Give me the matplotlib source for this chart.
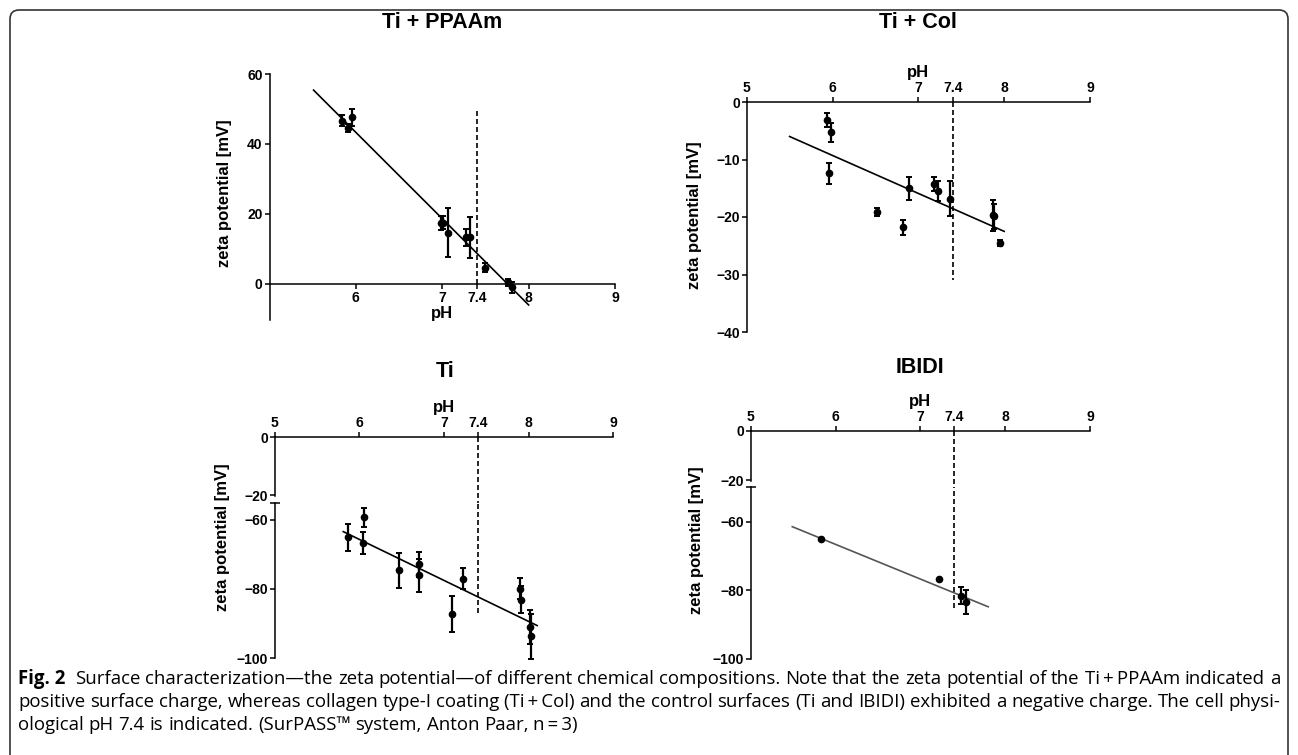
import matplotlib.pyplot as plt
from matplotlib.patches import FancyBboxPatch
from matplotlib.transforms import IdentityTransform

W, H = 1298, 755

plt.rcParams['font.family'] = ['Liberation Sans', 'DejaVu Sans']
plt.rcParams['font.weight'] = 'bold'
plt.rcParams['axes.labelweight'] = 'bold'

# Ti + PPAAm
ppaam_ph = [5.84, 5.91, 5.96, 6.98, 7.01, 7.07, 7.27, 7.32, 7.50, 7.76, 7.81]
ppaam_zeta = [46.7, 44.5, 47.6, 17.5, 17.5, 14.7, 13.3, 13.3, 4.7, 0.5, -1.0]
ppaam_err = [1.5, 1.2, 2.5, 2.0, 1.8, 7.0, 2.5, 5.8, 1.2, 1.0, 1.5]
ppaam_fit_ph = [5.51, 8.0]
ppaam_fit_zeta = [55.4, -6.0]

# Ti + Col
col_ph = [5.93, 5.98, 5.96, 6.52, 6.82, 6.89, 7.18, 7.23, 7.37, 7.87, 7.88, 7.95]
col_zeta = [-3.1, -5.3, -12.4, -19.2, -21.8, -15.0, -14.2, -15.5, -16.8, -19.7, -19.9, -24.5]
col_err = [1.2, 1.6, 1.8, 0.7, 1.3, 2.0, 1.2, 1.7, 3.0, 2.7, 2.2, 0.5]
col_fit_ph = [5.50, 8.0]
col_fit_zeta = [-6.0, -22.5]

# Ti
ti_ph = [5.87, 6.04, 6.06, 6.47, 6.70, 6.70, 7.09, 7.22, 7.90, 7.91, 8.02, 8.03]
ti_zeta = [-65.0, -66.6, -59.3, -74.6, -72.9, -76.1, -87.3, -77.0, -79.9, -83.1, -91.0, -93.7]
ti_err = [3.9, 3.2, 2.8, 5.0, 3.5, 4.8, 5.3, 3.0, 3.0, 4.0, 5.0, 6.5]
ti_fit_ph = [5.81, 8.10]
ti_fit_zeta = [-63.4, -90.6]

# IBIDI
ibidi_ph = [5.83, 7.22, 7.48, 7.54]
ibidi_zeta = [-65.2, -76.8, -81.7, -83.6]
ibidi_err = [0, 0, 2.5, 3.5]
ibidi_fit_ph = [5.49, 7.80]
ibidi_fit_zeta = [-61.5, -84.9]

phys_ph = 7.4
ph_ticks = [5, 6, 7, 7.4, 8, 9]
ph_labels = ['5', '6', '7', '7.4', '8', '9']

caption = [
    'Fig. 2|Surface characterization\u2014the zeta potential\u2014of different chemical '
    'compositions. Note that the zeta potential of the Ti\u2009+\u2009PPAAm indicated a',
    'positive surface charge, whereas collagen type-I coating (Ti\u2009+\u2009Col) and the '
    'control surfaces (Ti and IBIDI) exhibited a negative charge. The cell physi-',
    'ological pH 7.4 is indicated. (SurPASS\u2122 system, Anton Paar, n\u2009=\u20093)',
]

fig = plt.figure(figsize=(W / 100, H / 100), dpi=100)


def add_ax(l, t, r, b):
    return fig.add_axes([l / W, 1 - b / H, (r - l) / W, (b - t) / H])


def ftext(x, y, s, **kw):
    return fig.text(x / W, 1 - y / H, s, **kw)


def base(ax):
    ax.set_xlim(5, 9)
    ax.patch.set_visible(False)
    for s in ax.spines.values():
        s.set_visible(False)
        s.set_linewidth(1.1)
    ax.tick_params(direction='out', length=3.5, width=1.1, labelsize=10, pad=1.5)


def draw_data(ax, ph, zeta, err, fit_ph, fit_zeta, fit_color='black'):
    ax.errorbar(ph, zeta, yerr=err, fmt='o', color='black', ms=4.5,
                elinewidth=1.6, capsize=2.5, capthick=1.4, clip_on=False, zorder=3)
    ax.plot(fit_ph, fit_zeta, color=fit_color, lw=1.2, zorder=2)


dash = dict(color='black', lw=1.2, ls=(0, (3, 1.8)))

# ---- Ti + PPAAm
ax1 = add_ax(269.5, 74, 615, 320)
base(ax1)
ax1.set_ylim(-10.3, 60)
ax1.spines['left'].set_visible(True)
ax1.spines['bottom'].set_visible(True)
ax1.spines['bottom'].set_position(('data', 0))
ax1.set_xticks(ph_ticks[1:], ph_labels[1:])
ax1.set_yticks([0, 20, 40, 60])
draw_data(ax1, ppaam_ph, ppaam_zeta, ppaam_err, ppaam_fit_ph, ppaam_fit_zeta)
ax1.plot([phys_ph, phys_ph], [0, 50], **dash)
ax1.set_xlabel('pH', fontsize=12, labelpad=1)
ftext(442, 22, 'Ti + PPAAm', fontsize=15.5, ha='center', va='center')
ftext(224, 193, 'zeta potential [mV]', fontsize=12, rotation=90, ha='center', va='center')

# ---- Ti + Col
ax2 = add_ax(746.7, 102, 1090, 332)
base(ax2)
ax2.set_ylim(-40, 0)
ax2.spines['left'].set_visible(True)
ax2.spines['top'].set_visible(True)
ax2.xaxis.set_ticks_position('top')
ax2.xaxis.set_label_position('top')
ax2.set_xticks(ph_ticks, ph_labels)
ax2.set_yticks([0, -10, -20, -30, -40])
draw_data(ax2, col_ph, col_zeta, col_err, col_fit_ph, col_fit_zeta)
ax2.plot([phys_ph, phys_ph], [0, -31], **dash)
ax2.set_xlabel('pH', fontsize=12, labelpad=3)
ftext(918, 22, 'Ti + Col', fontsize=15.5, ha='center', va='center')
ftext(694, 215, 'zeta potential [mV]', fontsize=12, rotation=90, ha='center', va='center')


def broken(top_box, low_box, low_lim, ph, zeta, err, fit_ph, fit_zeta, dash_end,
           gap_end, fit_color='black'):
    up = add_ax(*top_box)
    base(up)
    up.set_ylim(-20.3, 0)
    up.spines['left'].set_visible(True)
    up.spines['top'].set_visible(True)
    up.xaxis.set_ticks_position('top')
    up.xaxis.set_label_position('top')
    up.set_xticks(ph_ticks, ph_labels)
    up.set_yticks([0, -20])
    up.set_xlabel('pH', fontsize=12, labelpad=3)
    up.plot([phys_ph, phys_ph], [0, gap_end], clip_on=False, **dash)

    lo = add_ax(*low_box)
    base(lo)
    lo.set_ylim(-100, low_lim)
    lo.spines['left'].set_visible(True)
    lo.set_xticks([])
    lo.set_yticks([-60, -80, -100])
    lo.plot([5], [low_lim], marker='_', ms=7, mew=1.1, color='black', clip_on=False)
    draw_data(lo, ph, zeta, err, fit_ph, fit_zeta, fit_color)
    lo.plot([phys_ph, phys_ph], [dash_end, low_lim], **dash)
    return up, lo


# ---- Ti
ax3u, ax3l = broken((274.7, 437.3, 613.3, 496.0), (274.7, 503.3, 613.3, 658),
                    -55.2, ti_ph, ti_zeta, ti_err, ti_fit_ph, ti_fit_zeta, -87, -22.6)
ftext(445, 372, 'Ti', fontsize=15.5, ha='center', va='center')
ftext(223, 537, 'zeta potential [mV]', fontsize=12, rotation=90, ha='center', va='center')

# ---- IBIDI
ax4u, ax4l = broken((750.7, 431, 1090, 481), (750.7, 487.3, 1090, 658.5),
                    -50, ibidi_ph, ibidi_zeta, ibidi_err, ibidi_fit_ph, ibidi_fit_zeta,
                    -85.2, -22.6, fit_color='#555555')
ftext(920, 368, 'IBIDI', fontsize=15.5, ha='center', va='center')
ftext(697, 540, 'zeta potential [mV]', fontsize=12, rotation=90, ha='center', va='center')

# ---- caption, set word by word so lines 1 and 2 are justified
cap_font = ['Liberation Sans Narrow', 'Open Sans', 'DejaVu Sans']
x_left, x_right = 18, 1280
line_y = [679, 702, 725]
fs = 12
rows = []
for i, line in enumerate(caption):
    if '|' in line:
        head, rest = line.split('|')
        words = [(head, 'bold')] + [(w, 'normal') for w in rest.split(' ')]
    else:
        words = [(w, 'normal') for w in line.split(' ')]
    rows.append([ftext(0, line_y[i], w, fontsize=fs, family=cap_font, fontweight=wt,
                       va='center') for w, wt in words])

r = fig.canvas.get_renderer()
for it in range(2):
    widths = [[t.get_window_extent(r).width for t in row] for row in rows]
    space = 0.26 * fs * 100 / 72
    natural = sum(widths[0]) + space * (len(widths[0]) - 1) + space
    fs = fs * (x_right - x_left) / natural
    for row in rows:
        for t in row:
            t.set_fontsize(fs)

widths = [[t.get_window_extent(r).width for t in row] for row in rows]
space = 0.26 * fs * 100 / 72
for i, row in enumerate(rows):
    if i < 2:
        extra = space if i == 0 else 0
        gap = (x_right - x_left - sum(widths[i]) - extra) / (len(row) - 1)
    else:
        gap = space
    x = x_left
    for j, t in enumerate(row):
        t.set_x(x / W)
        x += widths[i][j] + gap + (space if (i == 0 and j == 0) else 0)

box = FancyBboxPatch((10, -30), 1278, 775, boxstyle='round,pad=0,rounding_size=9',
                     transform=IdentityTransform(), fill=False, lw=1.2, ec='#333333')
fig.add_artist(box)

fig.savefig('out.png', dpi=100)
